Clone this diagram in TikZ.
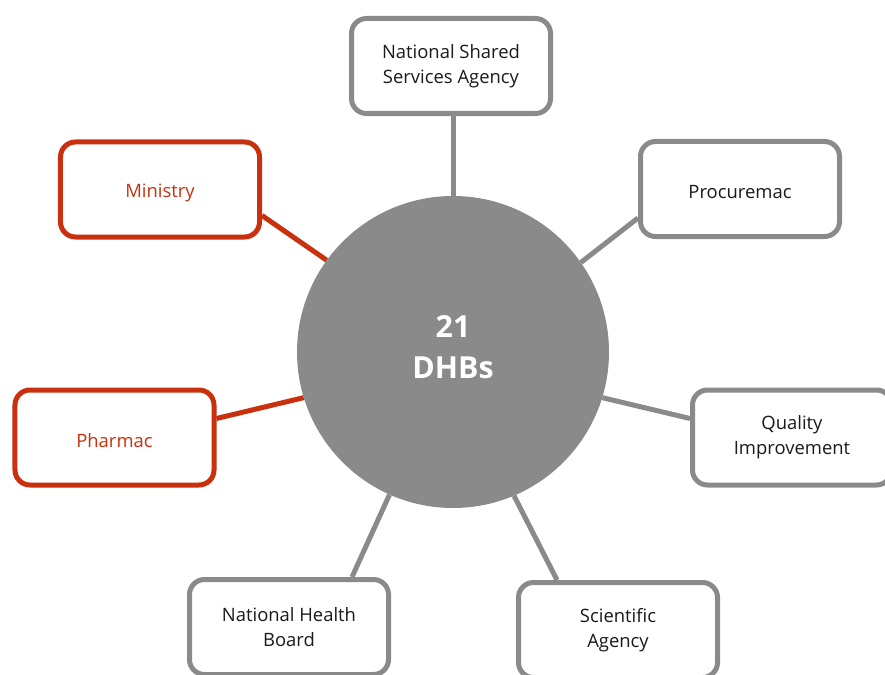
\documentclass[tikz,border=0pt]{standalone}
\usepackage{fontspec}
\setmainfont{Open Sans}
\usetikzlibrary{calc}

\definecolor{boxgray}{RGB}{138,138,138}
\definecolor{boxred}{RGB}{200,48,14}
\definecolor{textblack}{RGB}{26,26,26}

\begin{document}
\begin{tikzpicture}[x=1bp, y={(0bp,-1bp)},
  unit/.style={draw=boxgray, line width=5bp, rounded corners=15bp, fill=white,
    minimum width=199bp, minimum height=95bp, align=center,
    text=textblack, font=\fontsize{18.5}{25}\selectfont,
    execute at begin node={\rule{0pt}{20bp}}},
  redunit/.style={unit, draw=boxred, text=boxred},
  link/.style={boxgray, line width=5bp},
  redlink/.style={link, boxred}]
\useasboundingbox (0, 0) rectangle (885, 675);

\node[fill=boxgray, circle, minimum size=312bp, inner sep=0pt] (dhb) at (453, 352) {};
\node[text=white, align=center, font=\bfseries\fontsize{30.5}{41}\selectfont] (count) at (453, 347) {21\\DHBs};

\node[unit] (nssa) at (451, 66) {National Shared\\Services Agency};
\node[unit] (proc) at (740, 189) {Procuremac};
\node[redunit] (min) at (160, 189.5) {Ministry};
\node[redunit] (pharm) at (114.5, 437.5) {Pharmac};
\node[unit] (qual) at (792, 437.5) {Quality\\Improvement};
\node[unit] (nhb) at (289, 627) {National Health\\Board};
\node[unit] (sci) at (618, 630) {Scientific\\Agency};

\draw[link] (dhb.north) -- (dhb.north |- nssa.south);
\draw[link] (dhb.35) -- ([yshift=-29bp]proc.west);
\draw[redlink] (dhb.144.5) -- ([yshift=-26bp]min.east);
\draw[redlink] (dhb.197) -- ([yshift=19bp]pharm.east);
\draw[link] (dhb.343) -- ([yshift=19bp]qual.west);
\draw[link] (dhb.246) -- ([xshift=63bp]nhb.north);
\draw[link] (dhb.293.7) -- ([xshift=-61bp]sci.north);
\end{tikzpicture}
\end{document}
